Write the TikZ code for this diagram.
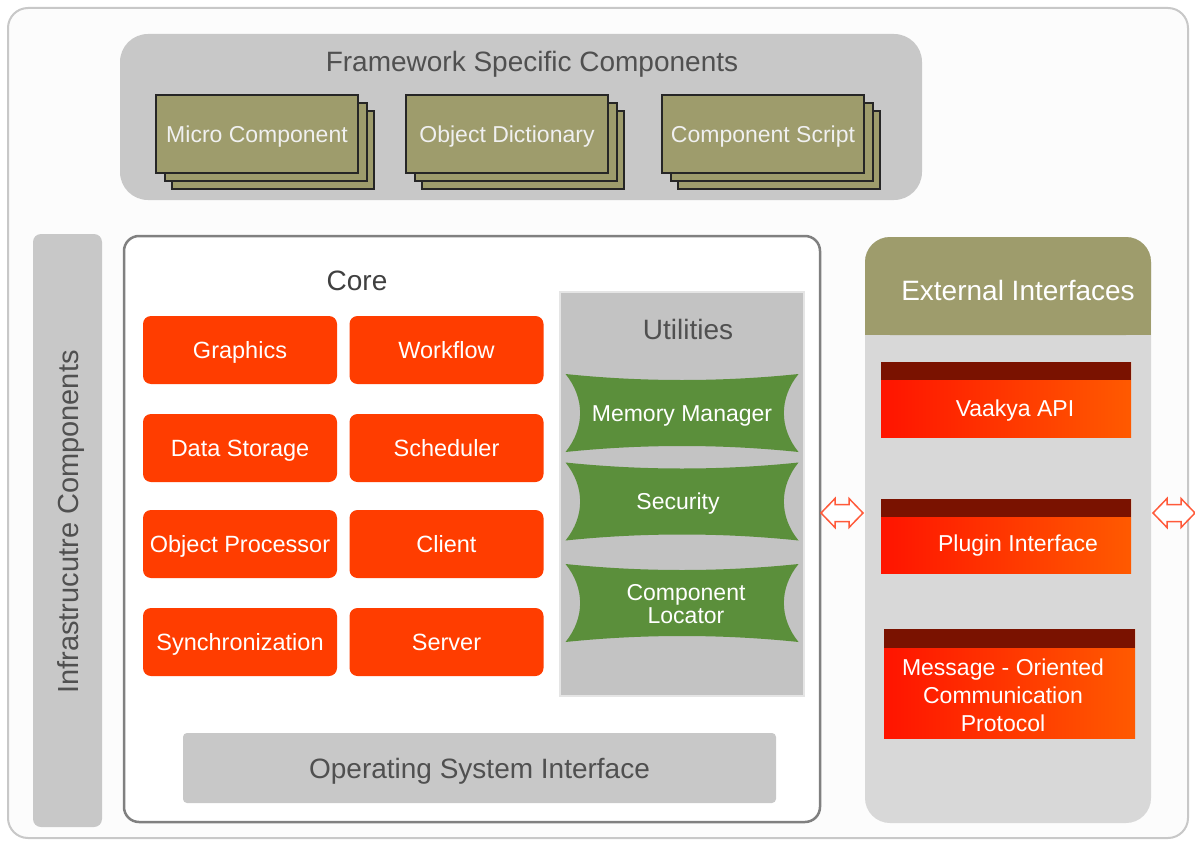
\documentclass[tikz,border=0pt]{standalone}
\usepackage{fontspec}
\setmainfont{Liberation Sans}
\usetikzlibrary{calc}
\definecolor{panelgray}{HTML}{C8C8C8}
\definecolor{utilgray}{HTML}{C3C3C3}
\definecolor{olivebox}{HTML}{9E9C6C}
\definecolor{coreorange}{HTML}{FF3D00}
\definecolor{utilgreen}{HTML}{5B8F3B}
\definecolor{titlegray}{HTML}{505050}
\definecolor{bandred}{HTML}{7A1200}
\definecolor{extgray}{HTML}{D8D8D8}
\definecolor{arroworange}{HTML}{FF5A3A}
\definecolor{extleft}{HTML}{FF1400}
\definecolor{extright}{HTML}{FF5A00}
\newcommand\fsz[1]{\fontsize{#1}{#1}\selectfont}
\newcommand\fszl[2]{\fontsize{#1}{#2}\selectfont}
\newcommand\stackcomp[3]{%
  \node[stackback] at ({#2+16},150) {};
  \node[stackback] at ({#2+9},142) {};
  \node[stackfront] (#1) at (#2,134) {#3};}
\newcommand\pillowshape[2]{%
  \fill[utilgreen] ({#1-116.5},{#2-39}) .. controls ({#1-40},{#2-31}) and ({#1+40},{#2-31}) .. ({#1+116.5},{#2-39})
    .. controls ({#1+97},{#2-15}) and ({#1+97},{#2+15}) .. ({#1+116.5},{#2+39})
    .. controls ({#1+40},{#2+31}) and ({#1-40},{#2+31}) .. ({#1-116.5},{#2+39})
    .. controls ({#1-97},{#2+15}) and ({#1-97},{#2-15}) .. cycle;}
\newcommand\dblarrow[3]{%
  \coordinate (#1) at (#2,#3);
  \draw[arrowline, shift={(#1)}] (-21,0) -- (-7,-14.5) -- (-7,-8.5) -- (7,-8.5) -- (7,-14.5) -- (21,0)
    -- (7,14.5) -- (7,8.5) -- (-7,8.5) -- (-7,14.5) -- cycle;}
\begin{document}
\begin{tikzpicture}[x=1pt,y=-1pt,
  capfix/.style={text height=#1, text depth=0pt},
  title/.style={text=titlegray, font=\fsz{28}, inner sep=0, capfix=20pt},
  corebox/.style={fill=coreorange, rounded corners=8, minimum width=194, minimum height=68, text=white, font=\fsz{23.5}, inner sep=0, capfix=16.8pt},
  stackback/.style={fill=olivebox, draw=black!85, line width=1.2, minimum width=202, minimum height=78, inner sep=0},
  stackfront/.style={stackback, text=white!94!black, font=\fsz{23}, capfix=16.5pt},
  pillowtext/.style={text=white, font=\fszl{23}{23}, align=center, inner sep=0},
  extbox/.style={left color=extleft, right color=extright, inner sep=0},
  exttext/.style={text=white, font=\fszl{23}{28}, align=center, inner sep=0},
  arrowline/.style={draw=arroworange, line width=1.5, fill=white, line join=miter}
]
\useasboundingbox (0,0) rectangle (1195,843);
\fill[white] (0,0) rectangle (1195,843);
% outer frame
\draw[panelgray, line width=2, fill=white!99!black, rounded corners=20] (8,8) rectangle (1188,838);

% framework specific components
\fill[panelgray, rounded corners=28] (120,34) rectangle (922,200);
\node[title] (fwtitle) at (532,62) {Framework Specific Components};
\stackcomp{micro}{257}{Micro Component}
\stackcomp{objdict}{507}{Object Dictionary}
\stackcomp{compscript}{763}{Component Script}

% infrastructure bar
\fill[panelgray, rounded corners=8] (33,234) rectangle (102,827);
\node[title, font=\fsz{29}, capfix=20.8pt, rotate=90] (infra) at (68,522) {Infrastrucutre Components};

% core
\draw[black!50, line width=2.5, fill=white, rounded corners=15] (124,236) rectangle (820,822);
\node[title, text=black!75] (core) at (357,280) {Core};
\node[corebox] (graphics) at (240,350) {Graphics};
\node[corebox, text depth=-3pt] (workflow) at (446.5,350) {Workflow};
\node[corebox] (datastorage) at (240,448) {Data Storage};
\node[corebox] (scheduler) at (446.5,448) {Scheduler};
\node[corebox] (objproc) at (240,544) {Object Processor};
\node[corebox] (client) at (446.5,544) {Client};
\node[corebox] (sync) at (240,642) {Synchronization};
\node[corebox] (server) at (446.5,642) {Server};

% utilities
\filldraw[fill=utilgray, draw=white!90!black, line width=1.2] (560,292) rectangle (804,696);
\node[title] (utilities) at (688,329) {Utilities};
\pillowshape{682}{413}
\node[pillowtext, capfix=16.5pt] (memmgr) at (682,413) {Memory Manager};
\pillowshape{682}{501.5}
\node[pillowtext, capfix=16.5pt] (security) at (678,501.5) {Security};
\pillowshape{682}{603}
\node[pillowtext] (locator) at (686,604) {Component\\Locator};

% OS interface
\node[fill=panelgray, rounded corners=4, minimum width=593, minimum height=70, inner sep=0, text=titlegray, font=\fsz{28}, capfix=20pt] (os) at (479.5,768) {Operating System Interface};

% external interfaces
\fill[extgray, rounded corners=25] (865,237) rectangle (1151,823);
\fill[olivebox, rounded corners=25] (865,237) rectangle (1151,335);
\fill[olivebox] (865,290) rectangle (1151,335);
\node[title, text=white] (exttitle) at (1018,290) {External Interfaces};

\node[extbox, minimum width=250, minimum height=75] (api) at (1006,399.5) {};
\fill[bandred] (api.north west) rectangle ($(api.north east)+(0,18)$);
\node[exttext, capfix=16.5pt] (apitext) at (1015,408) {Vaakya API};

\node[extbox, minimum width=250, minimum height=74] (plugin) at (1006,536) {};
\fill[bandred] (plugin.north west) rectangle ($(plugin.north east)+(0,18)$);
\node[exttext, capfix=16.5pt] (plugintext) at (1018,543) {Plugin Interface};

\node[extbox, minimum width=251, minimum height=109] (mom) at (1009.5,683.5) {};
\fill[bandred] (mom.north west) rectangle ($(mom.north east)+(0,19)$);
\node[exttext] (momtext) at (1003,695) {Message - Oriented\\Communication\\Protocol};

% double arrows
\dblarrow{arrleft}{842}{513}
\dblarrow{arrright}{1174}{513}
\end{tikzpicture}
\end{document}
